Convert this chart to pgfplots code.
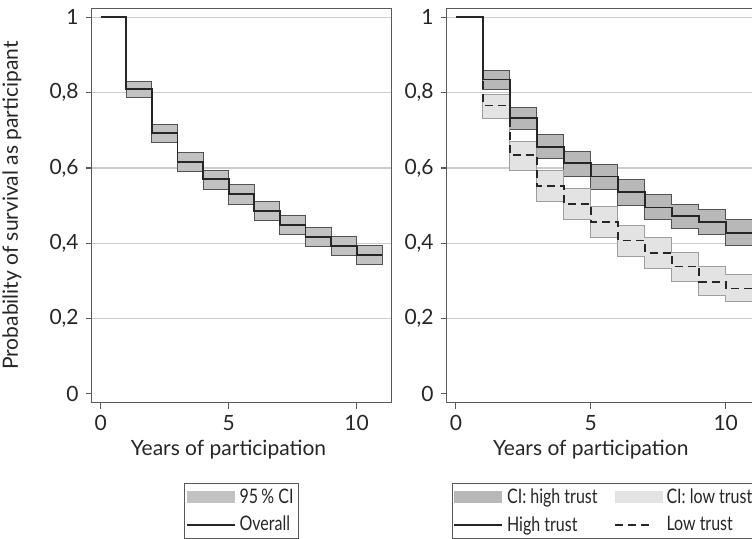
\documentclass[border=0pt]{standalone}
\usepackage{fontspec}
\setmainfont{Lato}
\newfontfamily\legfont[FakeStretch=0.8]{Lato}
\usepackage{pgfplots}
\usepackage{pgfplotstable}
\pgfplotsset{compat=1.18}
\usepgfplotslibrary{fillbetween}

\definecolor{framec}{gray}{0.35}
\definecolor{gridc}{gray}{0.80}
\definecolor{bandA}{gray}{0.76}
\definecolor{bandAd}{gray}{0.32}
\definecolor{bandH}{gray}{0.72}
\definecolor{bandL}{gray}{0.89}
\definecolor{bandLd}{gray}{0.62}
\definecolor{curvec}{gray}{0.15}

% overall survival, 95% CI (row 0 has no band)
\pgfplotstableread{
t   s      lo     hi
0   1      1      1
1   0.809  0.7875 0.829
2   0.692  0.667  0.715
3   0.615  0.590  0.640
4   0.570  0.543  0.594
5   0.530  0.503  0.555
6   0.486  0.460  0.511
7   0.448  0.422  0.473
8   0.417  0.391  0.442
9   0.393  0.367  0.419
10  0.369  0.344  0.394
11  0.369  0.344  0.394
}\overall

% high vs low trust
\pgfplotstableread{
t   hs     hlo    hhi    ls     llo    lhi
0   1      1      1      1      1      1
1   0.835  0.809  0.860  0.766  0.730  0.794
2   0.732  0.701  0.760  0.634  0.593  0.670
3   0.656  0.625  0.689  0.552  0.512  0.593
4   0.612  0.577  0.643  0.504  0.464  0.546
5   0.577  0.544  0.609  0.457  0.416  0.497
6   0.537  0.501  0.570  0.407  0.366  0.448
7   0.495  0.463  0.530  0.375  0.333  0.415
8   0.472  0.438  0.503  0.338  0.298  0.376
9   0.457  0.424  0.490  0.298  0.262  0.338
10  0.428  0.395  0.462  0.280  0.245  0.318
11  0.428  0.395  0.462  0.280  0.245  0.318
}\trust

\pgfplotsset{
  km/.style={
    scale only axis, height=197.2pt,
    ymin=-0.0236, ymax=1.0239,
    xtick={0,5,10}, ytick={0.2,0.4,0.6,0.8,1},
    extra y ticks={0}, extra y tick style={grid=none},
    ymajorgrids, grid style={gridc, line width=0.6pt},
    axis line style={framec, line width=0.7pt},
    tick style={framec, line width=0.6pt}, tick align=outside,
    major tick length=3pt, tick pos=left,
    tick label style={font=\fontsize{10.5}{12}\selectfont, text=black!85},
    label style={font=\fontsize{10.5}{12}\selectfont, text=black!85},
    /pgf/number format/use comma, /pgf/number format/fixed,
    /pgf/number format/precision=1, /pgf/number format/assume math mode=true,
    xlabel={Years of participation},
    xlabel style={at={(axis description cs:0.456,-0.1326)}, anchor=base},
    legend style={draw=framec, line width=0.6pt, font=\legfont\fontsize{10}{11}\selectfont,
      anchor=north, at={(axis description cs:0.5,-0.2036)}, inner sep=0.5pt,
      row sep=1pt, text=black!85},
    legend cell align=left,
  },
  band/.style={const plot, draw=none, forget plot, skip coords between index={0}{1}},
  boxkey/.style={legend image code/.code={\fill[##1, draw=none] (0pt,-3pt) rectangle (24pt,3pt);}},
  linekey/.style={legend image code/.code={\draw[##1] (0pt,0pt) -- (24pt,0pt);}},
  dashkey/.style={legend image code/.code={\draw[##1] (0pt,0pt) -- (18pt,0pt);}},
}

\begin{document}
\begin{tikzpicture}
\begin{axis}[km, at={(45.85pt,-201.35pt)}, anchor=south west,
    width=150pt, xmin=-0.35, xmax=11.37,
    ylabel={Probability of survival as participant},
    ylabel style={at={(axis description cs:-0.2457,0.5)}, anchor=base}]
  \addplot[band, name path=hiA] table[x=t, y=hi] {\overall};
  \addplot[band, name path=loA] table[x=t, y=lo] {\overall};
  \addplot[fill=bandA, draw=bandAd, line width=0.5pt, boxkey] fill between[of=hiA and loA];
  \addlegendentry{95\,\% CI}
  \addplot[const plot, curvec, line width=0.9pt, linekey] table[x=t, y=s] {\overall};
  \addlegendentry{Overall}
\end{axis}

\begin{axis}[km, at={(223.35pt,-201.35pt)}, anchor=south west,
    width=158pt, xmin=-0.34, xmax=11.37,
    legend columns=2,
    legend style={at={(axis description cs:0.0158,-0.2036)}, anchor=north west,
      /tikz/column 2/.style={column sep=6pt}}]
  \addplot[band, name path=hiH] table[x=t, y=hhi] {\trust};
  \addplot[band, name path=loH] table[x=t, y=hlo] {\trust};
  \addplot[band, name path=hiL] table[x=t, y=lhi] {\trust};
  \addplot[band, name path=loL] table[x=t, y=llo] {\trust};
  \addplot[fill=bandH, draw=bandAd, line width=0.5pt, boxkey] fill between[of=hiH and loH];
  \addlegendentry{CI: high trust}
  \addplot[fill=bandL, draw=bandLd, line width=0.5pt, boxkey] fill between[of=hiL and loL];
  \addlegendentry{CI: low trust}
  \addplot[const plot, curvec, line width=0.9pt, linekey] table[x=t, y=hs] {\trust};
  \addlegendentry{High trust}
  \addplot[const plot, curvec, line width=0.9pt, dash pattern=on 4pt off 2.5pt, dashkey]
    table[x=t, y=ls] {\trust};
  \addlegendentry{Low trust}
\end{axis}

\pgfresetboundingbox
\useasboundingbox (0pt,0pt) rectangle (376pt,-269pt);
\end{tikzpicture}
\end{document}
